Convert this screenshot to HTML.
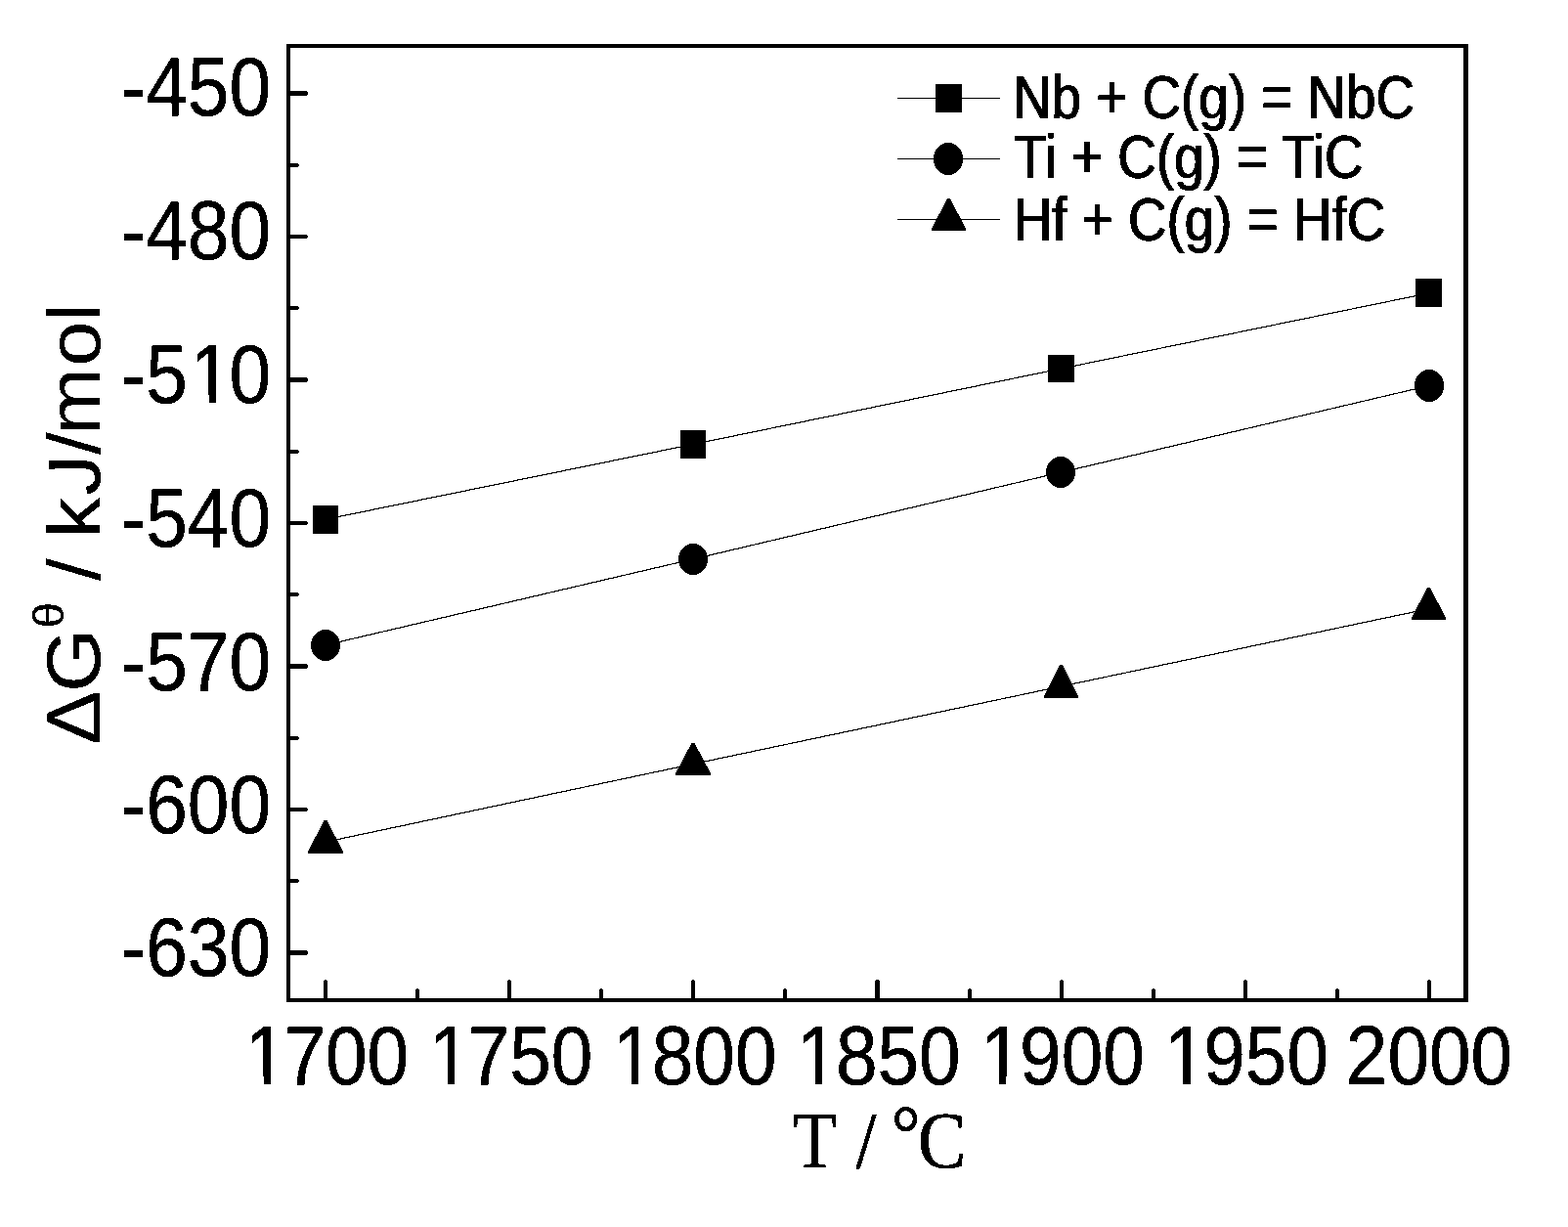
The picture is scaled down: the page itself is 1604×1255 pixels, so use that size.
<!DOCTYPE html>
<html lang="en"><head><meta charset="utf-8"><title>Gibbs free energy of carbide formation vs temperature</title>
<style>
html,body{margin:0;padding:0;background:#fff;}
body{width:1604px;height:1255px;overflow:hidden;}
svg{display:block;}
.sans{font-family:"Liberation Sans",Arial,Helvetica,sans-serif;}
.serif{font-family:"Liberation Serif","Times New Roman",Times,serif;}
text{fill:#000;}
</style></head><body>
<svg width="1604" height="1255" viewBox="0 0 1604 1255">
<defs>
<filter id="fa" filterUnits="userSpaceOnUse" x="0" y="0" width="1604" height="1255" color-interpolation-filters="sRGB">
<feComponentTransfer in="SourceGraphic"><feFuncA type="discrete" tableValues="0 1"/></feComponentTransfer>
</filter>
<filter id="fb" filterUnits="userSpaceOnUse" x="0" y="0" width="1604" height="1255" color-interpolation-filters="sRGB">
<feOffset in="SourceGraphic" dx="1" dy="0" result="o"/>
<feMerge result="m"><feMergeNode in="SourceGraphic"/><feMergeNode in="o"/></feMerge>
<feComponentTransfer in="m"><feFuncA type="discrete" tableValues="0 1 1"/></feComponentTransfer>
</filter>
<filter id="fc" filterUnits="userSpaceOnUse" x="0" y="0" width="1604" height="1255" color-interpolation-filters="sRGB">
<feComponentTransfer in="SourceGraphic"><feFuncA type="discrete" tableValues="0 1 1"/></feComponentTransfer>
</filter>
<filter id="fd" filterUnits="userSpaceOnUse" x="0" y="0" width="1604" height="1255" color-interpolation-filters="sRGB">
<feOffset in="SourceGraphic" dx="1" dy="0" result="o"/>
<feMerge result="m"><feMergeNode in="SourceGraphic"/><feMergeNode in="o"/></feMerge>
<feComponentTransfer in="m"><feFuncA type="discrete" tableValues="0 1"/></feComponentTransfer>
</filter>
</defs>
<rect x="0" y="0" width="1604" height="1255" fill="#fff"/>
<g shape-rendering="crispEdges" fill="#000">
<rect x="293" y="45" width="4" height="980"/>
<rect x="293" y="45" width="1209" height="4"/>
<rect x="1497" y="45" width="5" height="980"/>
<rect x="293" y="1021" width="1209" height="4"/>
<path d="M297 93 H313.5 L315.5 95.5 L313.5 98 H297 Z"/>
<path d="M297 240 H313.5 L315.5 242.0 L313.5 244 H297 Z"/>
<path d="M297 386 H313.5 L315.5 388.5 L313.5 391 H297 Z"/>
<path d="M297 533 H313.5 L315.5 535.0 L313.5 537 H297 Z"/>
<path d="M297 679 H313.5 L315.5 681.5 L313.5 684 H297 Z"/>
<path d="M297 826 H313.5 L315.5 828.0 L313.5 830 H297 Z"/>
<path d="M297 972 H313.5 L315.5 974.5 L313.5 977 H297 Z"/>
<path d="M297 167 H304.8 L306.3 169.0 L304.8 171 H297 Z"/>
<path d="M297 313 H304.8 L306.3 315.0 L304.8 317 H297 Z"/>
<path d="M297 460 H304.8 L306.3 462.0 L304.8 464 H297 Z"/>
<path d="M297 606 H304.8 L306.3 608.0 L304.8 610 H297 Z"/>
<path d="M297 753 H304.8 L306.3 755.0 L304.8 757 H297 Z"/>
<path d="M297 899 H304.8 L306.3 901.0 L304.8 903 H297 Z"/>
<path d="M331 1021 V1003.4 L333.0 1001.7 L335 1003.4 V1021 Z"/>
<path d="M519 1021 V1003.4 L521.0 1001.7 L523 1003.4 V1021 Z"/>
<path d="M707 1021 V1003.4 L709.0 1001.7 L711 1003.4 V1021 Z"/>
<path d="M895 1021 V1003.4 L897.5 1001.7 L900 1003.4 V1021 Z"/>
<path d="M1084 1021 V1003.4 L1086.0 1001.7 L1088 1003.4 V1021 Z"/>
<path d="M1272 1021 V1003.4 L1274.0 1001.7 L1276 1003.4 V1021 Z"/>
<path d="M1460 1021 V1003.4 L1462.0 1001.7 L1464 1003.4 V1021 Z"/>
<path d="M425 1021 V1012.2 L427.0 1010.5 L429 1012.2 V1021 Z"/>
<path d="M613 1021 V1012.2 L615.0 1010.5 L617 1012.2 V1021 Z"/>
<path d="M801 1021 V1012.2 L803.0 1010.5 L805 1012.2 V1021 Z"/>
<path d="M990 1021 V1012.2 L992.0 1010.5 L994 1012.2 V1021 Z"/>
<path d="M1178 1021 V1012.2 L1180.0 1010.5 L1182 1012.2 V1021 Z"/>
<path d="M1366 1021 V1012.2 L1368.0 1010.5 L1370 1012.2 V1021 Z"/>
</g>
<g shape-rendering="crispEdges" stroke="#000" stroke-width="1" fill="none">
<polyline stroke-width="1.18" points="333.00,531.20 709.33,454.40 1085.67,377.00 1462.00,299.80"/>
<polyline stroke-width="1.18" points="333.00,659.80 709.33,571.80 1085.67,483.00 1462.00,394.50"/>
<polyline stroke-width="1.18" points="333.00,861.20 709.33,781.40 1085.67,702.00 1462.00,622.60"/>
<line x1="918" y1="100.5" x2="1023" y2="100.5"/>
<line x1="918" y1="162.5" x2="1023" y2="162.5"/>
<line x1="918" y1="224.5" x2="1023" y2="224.5"/>
</g>
<g fill="#000" shape-rendering="crispEdges">
<rect x="320" y="517" width="26" height="29"/>
<rect x="696" y="440" width="26" height="29"/>
<rect x="1072" y="363" width="27" height="28"/>
<rect x="1448" y="285" width="27" height="29"/>
<ellipse cx="333.0" cy="660.0" rx="15.0" ry="16.0"/>
<ellipse cx="709.0" cy="572.0" rx="15.0" ry="16.0"/>
<ellipse cx="1085.0" cy="483.0" rx="15.0" ry="16.0"/>
<ellipse cx="1462.0" cy="394.5" rx="15.0" ry="16.5"/>
<path d="M315.0 873.0 V871.0 L331.5 839.0 H334.5 L351.0 871.0 V873.0 Z"/>
<path d="M691.0 793.0 V791.0 L707.5 760.0 H710.5 L727.0 791.0 V793.0 Z"/>
<path d="M1068.0 714.0 V712.0 L1084.0 680.0 H1087.0 L1103.0 712.0 V714.0 Z"/>
<path d="M1444.0 634.0 V632.0 L1460.0 601.0 H1463.0 L1479.0 632.0 V634.0 Z"/>
<rect x="957" y="86" width="27" height="29"/>
<ellipse cx="970.0" cy="162.5" rx="15.0" ry="16.5"/>
<path d="M953.0 236.0 V234.0 L969.0 203.0 H972.0 L988.0 234.0 V236.0 Z"/>
</g>
<g class="sans" font-size="76.60" stroke="#000" stroke-width="0.40" stroke-linejoin="round" filter="url(#fa)">
<text transform="translate(277.00 118.00) scale(1 1.1005)" text-anchor="end">-450</text>
<text transform="translate(277.00 265.00) scale(1 1.1005)" text-anchor="end">-480</text>
<text transform="translate(277.00 412.00) scale(1 1.1005)" text-anchor="end" dx="0 0 2.7 -2.7">-510</text>
<text transform="translate(277.00 559.00) scale(1 1.1005)" text-anchor="end">-540</text>
<text transform="translate(277.00 706.00) scale(1 1.1005)" text-anchor="end">-570</text>
<text transform="translate(277.00 852.00) scale(1 1.1005)" text-anchor="end">-600</text>
<text transform="translate(277.00 998.00) scale(1 1.1005)" text-anchor="end">-630</text>
<text transform="translate(331.65 1109.00) scale(1 1.1005)" text-anchor="middle" dx="2.7 -2.7">1700</text>
<text transform="translate(519.82 1109.00) scale(1 1.1005)" text-anchor="middle" dx="2.7 -2.7">1750</text>
<text transform="translate(707.98 1109.00) scale(1 1.1005)" text-anchor="middle" dx="2.7 -2.7">1800</text>
<text transform="translate(896.15 1109.00) scale(1 1.1005)" text-anchor="middle" dx="2.7 -2.7">1850</text>
<text transform="translate(1084.32 1109.00) scale(1 1.1005)" text-anchor="middle" dx="2.7 -2.7">1900</text>
<text transform="translate(1272.48 1109.00) scale(1 1.1005)" text-anchor="middle" dx="2.7 -2.7">1950</text>
<text transform="translate(1462.00 1109.00) scale(1 1.1005)" text-anchor="middle">2000</text>
</g>
<g class="sans" font-size="54.80" filter="url(#fb)">
<text transform="translate(1035.50 121.00) scale(1 1.1430)">Nb + C(g) = NbC</text>
<text transform="translate(1036.80 182.00) scale(1 1.1430)">Ti + C(g) = TiC</text>
<text transform="translate(1036.30 246.00) scale(1 1.1430)">Hf + C(g) = HfC</text>
</g>
<g filter="url(#fc)"><text class="sans" font-size="76.20" transform="translate(102.00 760.00) rotate(-90) scale(1.0780 1)"><tspan x="-1.55 48.51" font-size="77.00">ΔG</tspan><tspan x="108.96" dy="-37.20" font-size="44.00">θ</tspan><tspan x="132.88 154.06 173.69 194.87 235.06 273.64 292.47 357.53 400.26" dy="37.20"> / kJ/mol</tspan></text></g>
<g filter="url(#fd)"><text class="serif" font-size="82.50" transform="translate(810.00 1194.00) scale(0.8940 1)" x="0.43 52.36 72.98 92.84 113.46 143.65" dy="0 0 0 0 -7.50 7.50">T / °C</text></g>
<g fill="#fff" shape-rendering="crispEdges">
<rect x="254" y="1101" width="16" height="10"/>
<rect x="277" y="1101" width="15" height="10"/>
<rect x="442" y="1101" width="16" height="10"/>
<rect x="465" y="1101" width="15" height="10"/>
<rect x="630" y="1101" width="16" height="10"/>
<rect x="653" y="1101" width="15" height="10"/>
<rect x="818" y="1101" width="16" height="10"/>
<rect x="841" y="1101" width="15" height="10"/>
<rect x="1006" y="1101" width="16" height="10"/>
<rect x="1029" y="1101" width="16" height="10"/>
<rect x="1195" y="1101" width="15" height="10"/>
<rect x="1218" y="1101" width="15" height="10"/>
<rect x="198" y="404" width="16" height="10"/>
<rect x="221" y="404" width="15" height="10"/>
<rect x="47.6" y="479.6" width="9.8" height="12.4"/>
</g>
</svg>
</body></html>
